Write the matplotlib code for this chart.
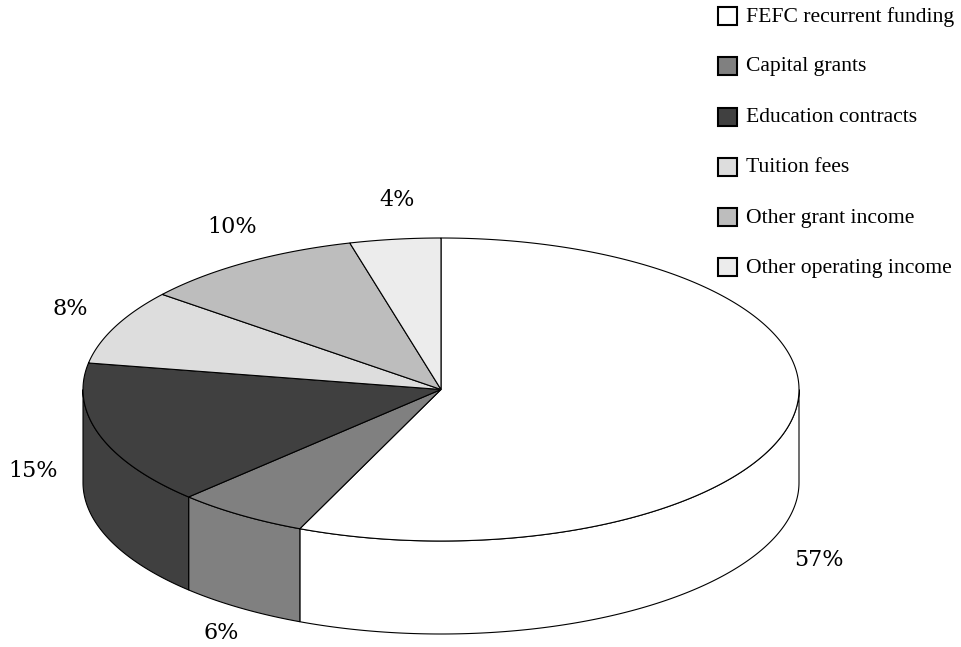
import numpy as np
import matplotlib
matplotlib.use("Agg")
import matplotlib.pyplot as plt
from matplotlib.patches import Polygon, Rectangle

categories = ["FEFC recurrent funding", "Capital grants", "Education contracts",
              "Tuition fees", "Other grant income", "Other operating income"]
values = [56.45, 6.0, 15.35, 8.0, 10.1, 4.1]
pct_labels = ["57%", "6%", "15%", "8%", "10%", "4%"]
colors = ["#ffffff", "#808080", "#404040", "#dddddd", "#bdbdbd", "#ececec"]
label_pos = [(819, 560), (221, 633), (33, 471), (70, 309), (232, 227), (397, 200)]
legend_y = [16, 66, 116.5, 166.5, 217, 267]

W, H = 961, 647
CX, CY, A, B, D = 441, 389.5, 358, 151.5, 93

fig = plt.figure(figsize=(W / 100, H / 100), dpi=100)
ax = fig.add_axes([0, 0, 1, 1])
ax.set_xlim(0, W)
ax.set_ylim(H, 0)
ax.axis("off")
serif = ["Liberation Serif", "DejaVu Serif"]


def pt(t):
    return CX + A * np.sin(t), CY - B * np.cos(t)


edges = np.radians(np.cumsum([0] + values) * 3.6)

# side walls: visible where the rim faces the viewer (pi/2 .. 3pi/2)
for i, c in enumerate(colors):
    lo, hi = max(edges[i], np.pi / 2), min(edges[i + 1], 3 * np.pi / 2)
    if lo >= hi:
        continue
    t = np.linspace(lo, hi, 200)
    x, y = pt(t)
    xy = np.r_[np.c_[x, y], np.c_[x[::-1], y[::-1] + D]]
    ax.add_patch(Polygon(xy, closed=True, fc=c, ec="black", lw=0.8, zorder=2))

# top face
for i, c in enumerate(colors):
    t = np.linspace(edges[i], edges[i + 1], 300)
    x, y = pt(t)
    xy = np.r_[[[CX, CY]], np.c_[x, y]]
    ax.add_patch(Polygon(xy, closed=True, fc=c, ec="black", lw=0.8, zorder=3))

for s, (x, y) in zip(pct_labels, label_pos):
    ax.text(x, y, s, ha="center", va="center", fontsize=16, family="DejaVu Serif", color="black")

for name, c, y in zip(categories, colors, legend_y):
    ax.add_patch(Rectangle((718, y - 9), 19, 18, fc=c, ec="black", lw=1.5, zorder=3))
    ax.text(746, y + 1, name, ha="left", va="center", fontsize=15.6, family=serif, color="black")

fig.savefig("out.png", dpi=100)
